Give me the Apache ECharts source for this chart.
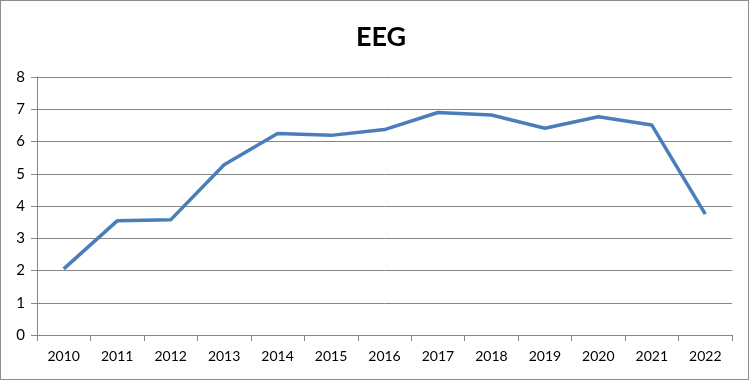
<!DOCTYPE html>
<html>
<head>
<meta charset="utf-8">
<script src="https://cdn.jsdelivr.net/npm/echarts@6/dist/echarts.min.js"></script>
<style>
  html, body { margin: 0; padding: 0; background: #fff; }
  .frame {
    position: absolute; left: 0; top: 0;
    width: 747px; height: 378px;
    border: 1px solid #8c8c8c;
  }
  .line { position: absolute; left: 0; top: 0; width: 755px; height: 382px; }
</style>
</head>
<body>
<div class="frame"></div>
<div class="line" id="chart"></div>
<script>
const years = ["2010", "2011", "2012", "2013", "2014", "2015", "2016",
  "2017", "2018", "2019", "2020", "2021", "2022"];
const eegValues = [2.05, 3.54, 3.57, 5.28, 6.25, 6.19, 6.37, 6.9, 6.82, 6.41, 6.77, 6.51, 3.75];

const chart = echarts.init(document.getElementById("chart"));
chart.setOption({
  animation: false,
  title: {
    text: "EEG",
    left: 376,
    top: 19,
    textAlign: "center",
    textStyle: { fontFamily: "Lato", fontWeight: "bold", fontSize: 27, color: "#000" },
  },
  grid: { left: 37, right: 23, top: 77, bottom: 47, containLabel: false },
  xAxis: {
    type: "category",
    boundaryGap: true,
    data: years,
    axisLine: { show: true, lineStyle: { color: "#868686", width: 1 } },
    axisTick: { show: true, alignWithLabel: false, length: 6, lineStyle: { color: "#868686" } },
    axisLabel: { fontFamily: "Lato", fontSize: 14, color: "#000", margin: 14 },
  },
  yAxis: {
    type: "value",
    min: 0,
    max: 8,
    interval: 1,
    axisLine: { show: true, lineStyle: { color: "#868686", width: 1 } },
    axisTick: { show: true, length: 6, lineStyle: { color: "#868686" } },
    axisLabel: { fontFamily: "Lato", fontSize: 15, color: "#000", margin: 12 },
    splitLine: { show: true, lineStyle: { color: "#868686", width: 1 } },
  },
  series: [
    {
      name: "EEG",
      type: "line",
      data: eegValues,
      showSymbol: false,
      lineStyle: { color: "#4a7ebb", width: 3.5 },
      itemStyle: { color: "#4a7ebb" },
    },
  ],
});
</script>
</body>
</html>
